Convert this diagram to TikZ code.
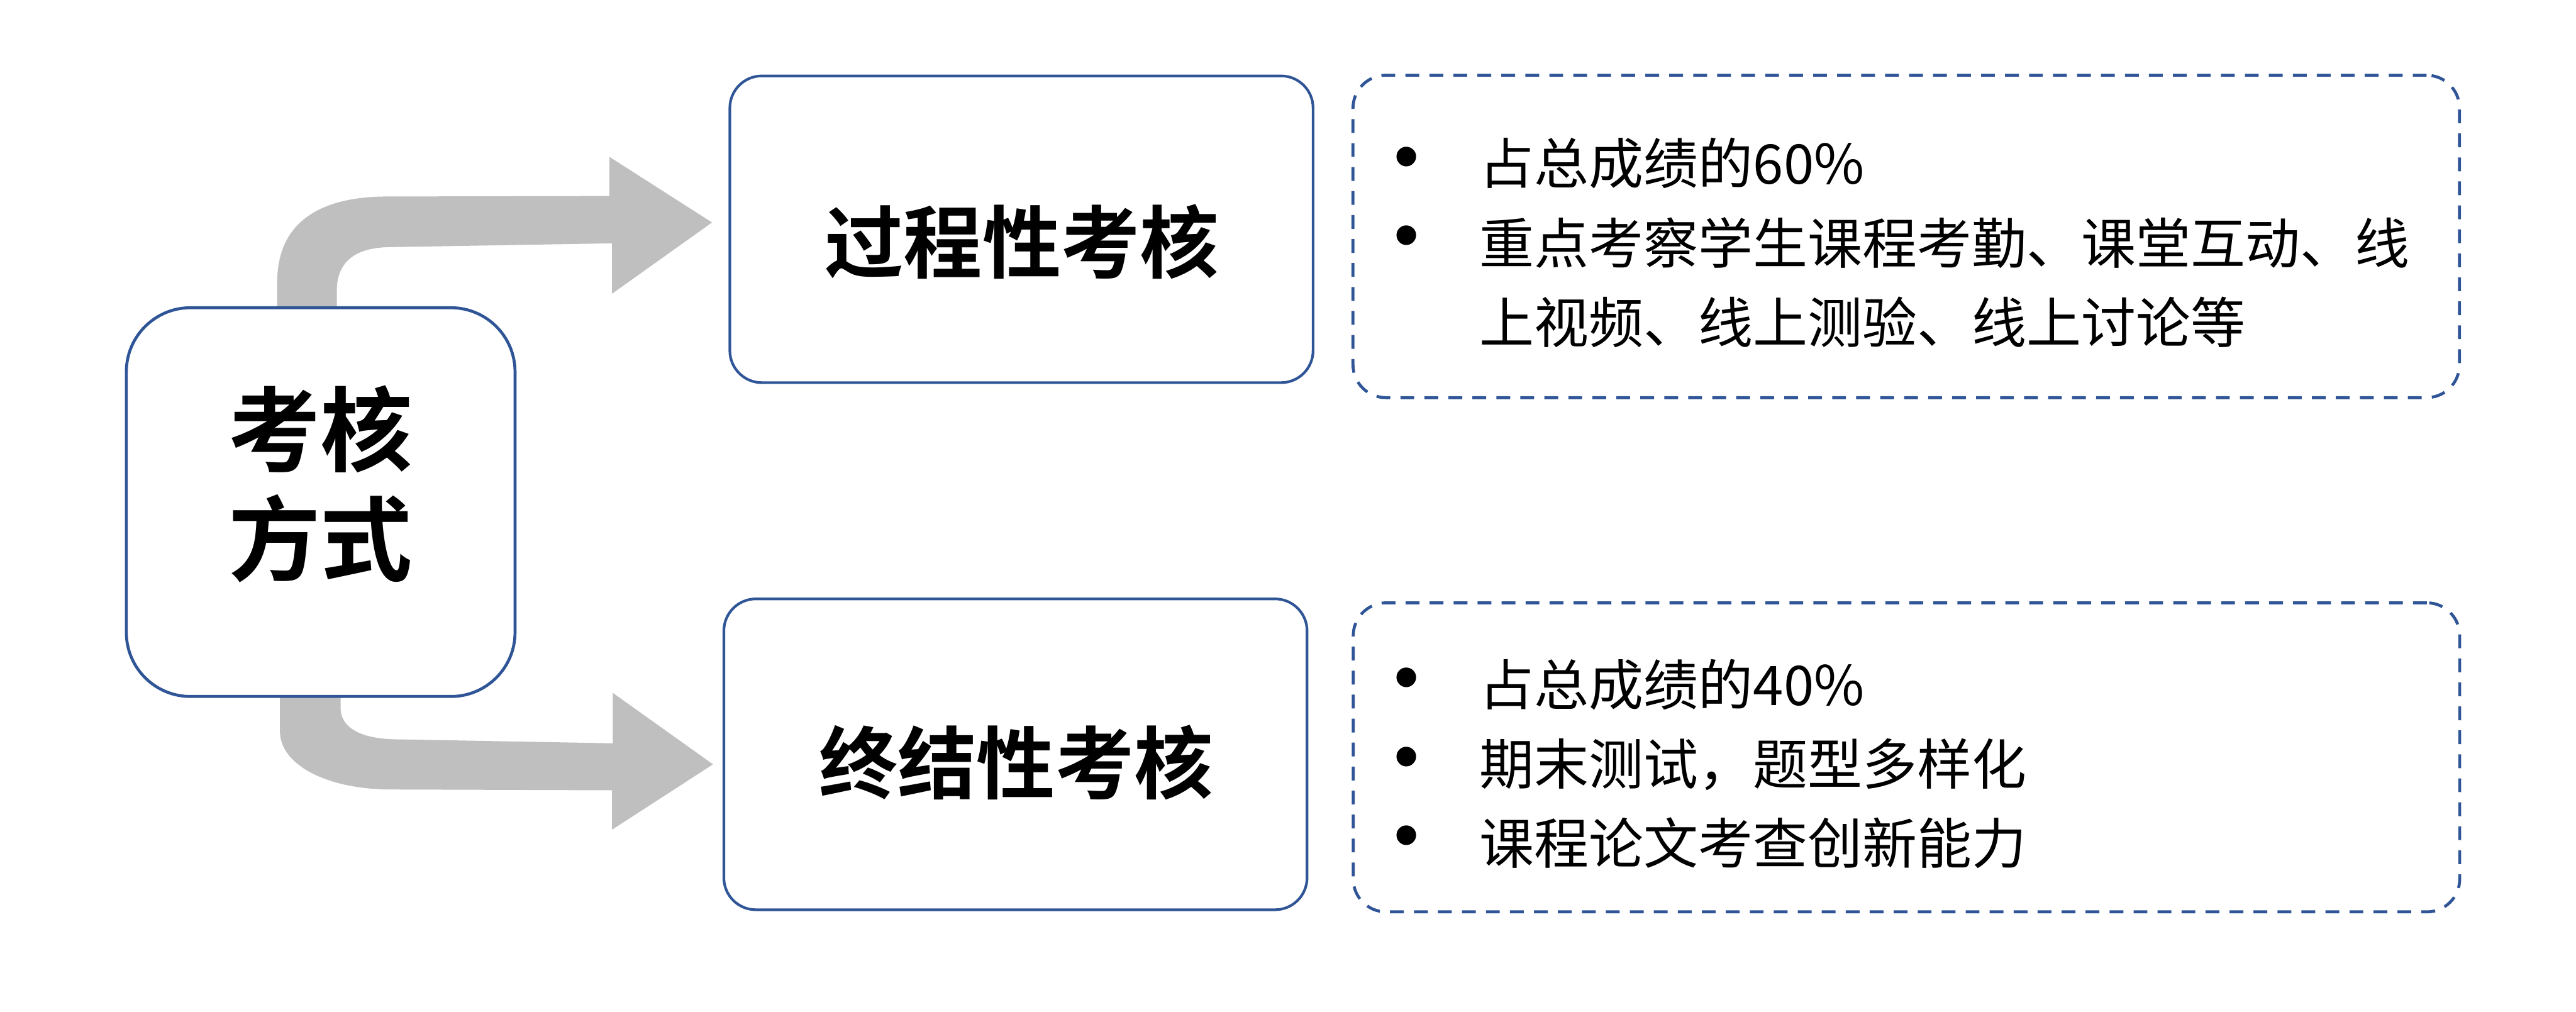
\documentclass[tikz,border=0pt]{standalone}
\usepackage{fontspec}
\setmainfont{Noto Sans CJK SC}[BoldFont={Noto Sans CJK SC Bold}]
\newfontfamily\bulletfont{Liberation Sans}
\definecolor{boxblue}{HTML}{2F5597}
\definecolor{arrowgrey}{HTML}{BFBFBF}
\begin{document}
\begin{tikzpicture}[x=1pt,y=-1pt,
  mainbox/.style={draw=boxblue, line width=1.8pt, fill=white, rounded corners=39pt,
    minimum width=236.6pt, minimum height=236.6pt, inner sep=0pt},
  midbox/.style={draw=boxblue, line width=1.6pt, fill=white, rounded corners=19.5pt,
    minimum width=355pt, inner sep=0pt},
  dashbox/.style={draw=boxblue, line width=1.8pt, dash pattern=on 8.4pt off 6.2pt,
    rounded corners=20pt, minimum width=673.5pt, inner sep=0pt},
  bigtitle/.style={font=\bfseries\fontsize{56}{66.6}\selectfont, align=center, inner sep=0pt},
  subtitle/.style={font=\bfseries\fontsize{48}{58}\selectfont, inner sep=0pt},
  itemtext/.style={font=\fontsize{33.3}{48.5}\selectfont, anchor=base west, inner sep=0pt},
  bul/.style={font=\bulletfont\fontsize{44}{48}\selectfont, inner sep=0pt},
  bigarrow/.style={fill=arrowgrey, draw=none}]
\useasboundingbox (0,0) rectangle (1568,615.7);

% grey bent arrows
\fill[bigarrow] (168.7,200) -- (168.7,172)
  .. controls (168.7,135) and (195,119.6) .. (236,119.6)
  -- (371,119.3) -- (371,95.5) -- (433.4,135.4) -- (372.5,178.8) -- (372.5,148.1)
  -- (238,150.4) .. controls (218,150.4) and (205,158) .. (205,177)
  -- (205,200) -- cycle;
\fill[bigarrow] (170.4,410) -- (170.4,445)
  .. controls (170.4,466) and (200,480.5) .. (238,480.5)
  -- (372.5,481) -- (372.5,505) -- (434,465.2) -- (373,421.7) -- (373,452.4)
  -- (242.8,450) .. controls (218,450) and (207.3,442) .. (207.3,430.9)
  -- (207.3,410) -- cycle;

% boxes
\node[mainbox] (main) at (195.2,305.6) {};
\node[midbox, minimum height=186.7pt] (proc) at (621.75,139.55) {};
\node[midbox, minimum height=189.2pt] (summ) at (618.1,459.1) {};
\node[dashbox, minimum height=196.2pt] (procd) at (1160.3,143.9) {};
\node[dashbox, minimum height=188.1pt] (summd) at (1160.45,460.95) {};

% titles
\node[bigtitle] (maint) at (195.2,294.7) {考核\\方式};
\node[subtitle] (proct) at (622,147) {过程性考核};
\node[subtitle] (summt) at (618.5,464.2) {终结性考核};

% bullets, top
\node[bul] (pb1) at (856.3,99.6) {•};
\node[bul] (pb2) at (856.3,147.8) {•};
\node[itemtext] (p1) at (900.5,112.1) {占总成绩的60\%};
\node[itemtext] (p2) at (900.5,160.4) {重点考察学生课程考勤、课堂互动、线};
\node[itemtext] (p3) at (900.5,208.9) {上视频、线上测验、线上讨论等};

% bullets, bottom
\node[bul] (sb1) at (856.3,416.6) {•};
\node[bul] (sb2) at (856.3,464.8) {•};
\node[bul] (sb3) at (856.3,513.0) {•};
\node[itemtext] (s1) at (900.5,429.2) {占总成绩的40\%};
\node[itemtext] (s2) at (900.5,477.4) {期末测试，题型多样化};
\node[itemtext] (s3) at (900.5,525.6) {课程论文考查创新能力};
\end{tikzpicture}
\end{document}
